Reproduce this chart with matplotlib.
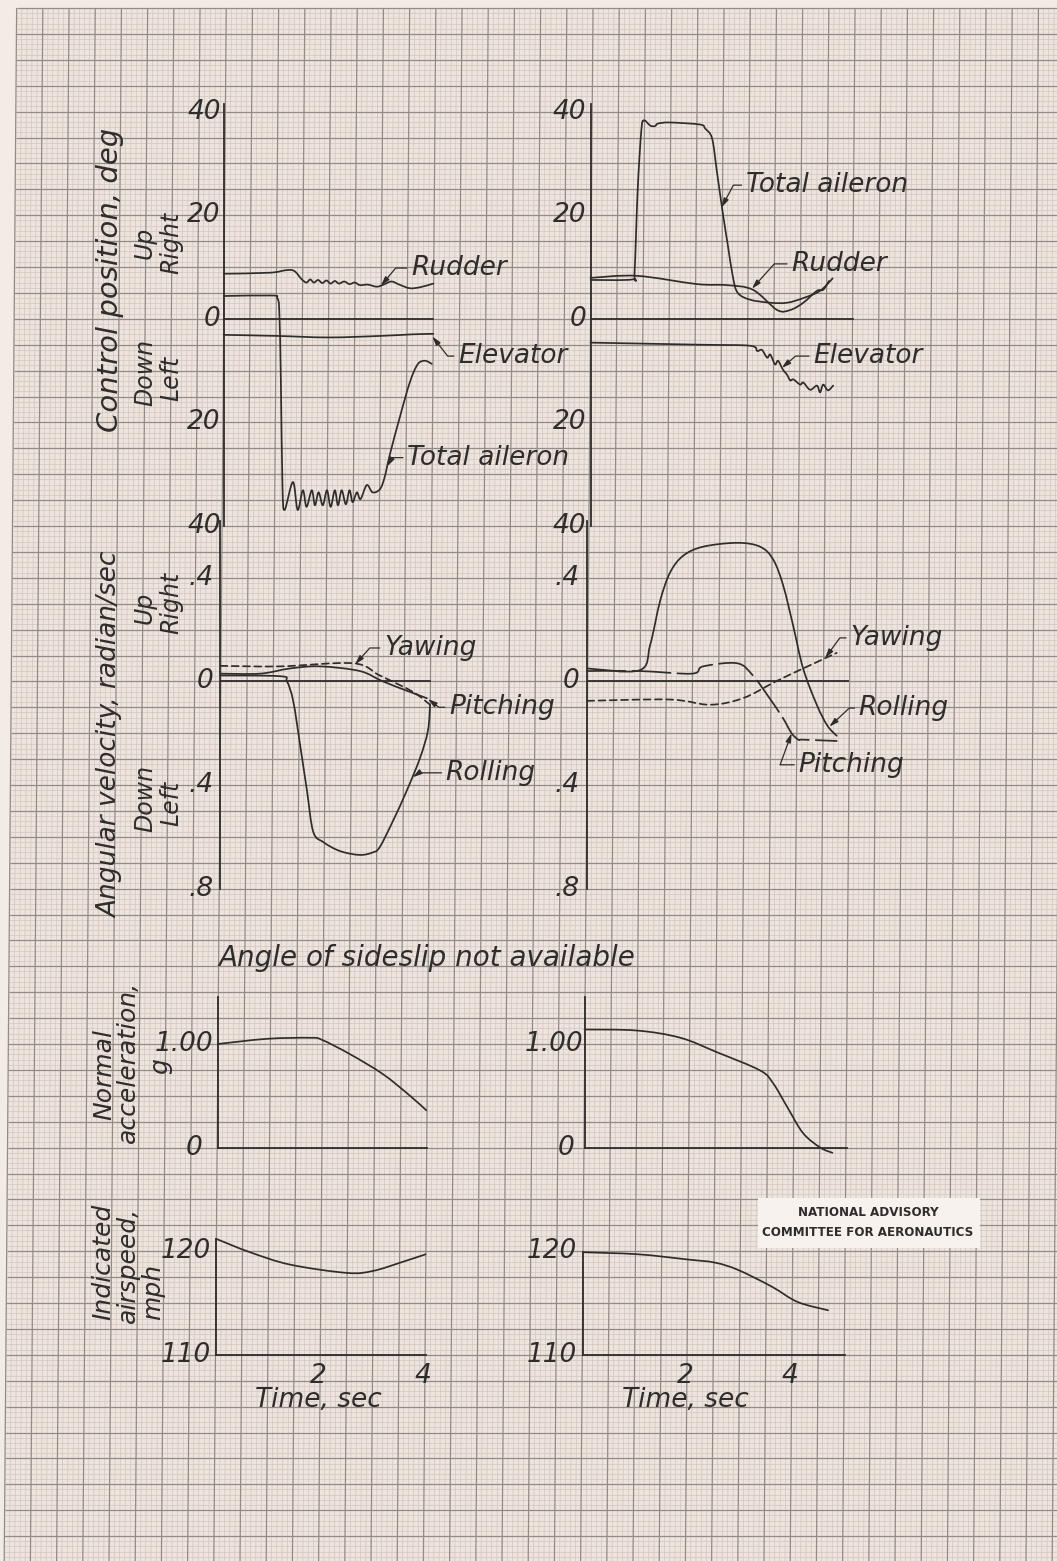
import matplotlib
matplotlib.use('Agg')
import matplotlib.pyplot as plt
from matplotlib.collections import LineCollection
from matplotlib.patches import Polygon, Rectangle, PathPatch
from matplotlib.path import Path

# ---- data ----
# control position, deg (up/right positive), time in sec
rudder_l_t = [0, 0.88, 1.2, 1.35, 1.49, 1.58, 1.65, 1.72, 1.8, 1.88, 1.96, 2.04, 2.12, 2.2, 2.3,
              2.4, 2.5, 2.6, 2.75, 2.92, 3.05, 3.2, 3.35, 3.55, 3.75, 4.0]
rudder_l = [8.7, 8.9, 9.4, 9.2, 7.6, 7.0, 7.6, 7.0, 7.5, 6.9, 7.4, 6.8, 7.3, 6.8, 7.2,
            6.7, 7.0, 6.5, 6.6, 6.2, 6.6, 7.2, 6.6, 5.9, 6.1, 6.8]
elevator_l_t = [0, 1.0, 2.0, 3.0, 3.6, 4.0]
elevator_l = [-3.1, -3.3, -3.6, -3.3, -3.0, -2.9]
aileron_l_t = [0, 0.92, 1.02, 1.06, 1.09, 1.12, 1.16, 1.32, 1.41, 1.51, 1.58, 1.68, 1.74, 1.81,
               1.89, 1.97, 2.04, 2.12, 2.18, 2.25, 2.33, 2.40, 2.46, 2.54, 2.61, 2.73, 2.84,
               2.98, 3.07, 3.17, 3.36, 3.55, 3.70, 3.84, 3.97]
aileron_l = [4.4, 4.5, 4.0, 1.5, -12, -32, -36.9, -31.5, -36.9, -33.1, -36.3, -33.1, -36.0, -33.5,
             -36.0, -33.1, -36.3, -33.1, -36.0, -33.1, -35.8, -33.1, -35.4, -33.5, -34.8, -32.1, -33.5,
             -32.9, -30.6, -26.2, -19, -12.3, -8.8, -8.1, -8.7]

aileron_r_t = [0, 0.80, 0.84, 0.90, 0.97, 1.02, 1.14, 1.23, 1.29, 1.52, 2.09, 2.19, 2.32, 2.41,
               2.53, 2.62, 2.72, 2.81, 3.04, 3.43, 3.75, 4.06, 4.38, 4.62]
aileron_r = [7.5, 7.6, 9.0, 25, 36.5, 38.3, 37.3, 37.2, 37.7, 37.9, 37.5, 36.7, 34.8, 28.5,
             20, 14.2, 7.9, 5.0, 3.7, 3.1, 3.1, 4.0, 5.4, 7.8]
rudder_r_t = [0, 0.88, 2.03, 2.6, 3.1, 3.56, 3.81, 4.06, 4.32, 4.44, 4.55]
rudder_r = [7.9, 8.3, 6.7, 6.5, 5.6, 1.7, 1.7, 3.1, 5.4, 5.6, 7.3]
elevator_r_t = [0, 2.09, 3.04, 3.18, 3.27, 3.37, 3.43, 3.52, 3.58, 3.67, 3.75, 3.81, 3.87, 4.0,
                4.06, 4.19, 4.32, 4.38, 4.44, 4.53, 4.63]
elevator_r = [-4.6, -5.0, -5.2, -6.2, -6.0, -7.5, -6.9, -8.8, -8.1, -9.8, -10.8, -11.9, -11.7, -12.7,
              -12.3, -13.7, -12.9, -14.2, -12.7, -13.8, -12.9]

# angular velocity, radian/sec
rolling_l_t = [0, 1.14, 1.27, 1.39, 1.52, 1.65, 1.77, 1.96, 2.28, 2.66, 2.91, 3.04, 3.29, 3.56, 3.81, 3.96, 4.0]
rolling_l = [0.023, 0.02, 0.0, -0.077, -0.245, -0.42, -0.58, -0.62, -0.655, -0.67, -0.66, -0.64,
             -0.54, -0.42, -0.295, -0.19, -0.09]
pitching_l_t = [0, 0.76, 1.33, 1.9, 2.66, 3.1, 3.61, 3.94]
pitching_l = [0.03, 0.03, 0.05, 0.058, 0.04, 0.0, -0.04, -0.065]
yawing_l_t = [0, 1.14, 2.53, 3.04, 3.67, 4.0]
yawing_l = [0.06, 0.058, 0.07, 0.023, -0.04, -0.09]

rolling_r_t = [0, 1.0, 1.2, 1.39, 1.58, 1.83, 2.21, 2.86, 3.3, 3.55, 3.74, 3.93, 4.12, 4.38, 4.58, 4.76]
rolling_r = [0.05, 0.043, 0.14, 0.31, 0.42, 0.485, 0.52, 0.535, 0.52, 0.47, 0.37, 0.215, 0.05,
             -0.09, -0.17, -0.21]
pitching_r_t = [0, 1.0, 2.0, 2.21, 2.86, 3.16, 3.48, 3.73, 3.9, 4.03, 4.12, 4.76]
pitching_r = [0.04, 0.04, 0.03, 0.058, 0.07, 0.023, -0.065, -0.14, -0.2, -0.225, -0.225, -0.23]
yawing_r_t = [0, 1.58, 2.34, 2.97, 3.6, 4.12, 4.76]
yawing_r = [-0.075, -0.07, -0.09, -0.065, -0.0, 0.05, 0.11]

# normal acceleration, g
accel_l_t = [0, 0.94, 1.77, 1.99, 2.53, 3.15, 3.67, 3.98]
accel_l = [1.0, 1.05, 1.06, 1.04, 0.9, 0.71, 0.5, 0.36]
accel_r_t = [0, 1.0, 1.83, 2.53, 3.35, 3.6, 3.87, 4.17, 4.5, 4.73]
accel_r = [1.14, 1.13, 1.06, 0.92, 0.745, 0.62, 0.39, 0.14, 0.0, -0.05]

# indicated airspeed, mph
speed_l_t = [0, 0.65, 1.42, 2.51, 3.0, 3.52, 4.0]
speed_l = [121.2, 119.9, 118.7, 117.9, 118.1, 118.9, 119.7]
speed_r_t = [0, 1.06, 2.0, 2.52, 2.96, 3.6, 4.1, 4.68]
speed_r = [119.9, 119.7, 119.2, 118.9, 118.2, 116.6, 115.1, 114.3]

ctrl_ticks = [40, 20, 0, -20, -40]
ctrl_tick_labels = ['40', '20', '0', '20', '40']
rate_ticks = [0.4, 0, -0.4, -0.8]
rate_tick_labels = ['.4', '0', '.4', '.8']
time_ticks = [2, 4]

# ---- page / graph paper ----
W, H = 1057, 1561
GX0, GY0 = 16.7, 8.0      # first ruling
GXS, GYS = 26.2, 25.9     # major cell in px
SHEAR = 0.008             # scan is slightly skewed
INK = '#2f2c2c'
PAPER = '#ede4dd'
FONT = 'DejaVu Sans'


def gx(k, y):
    return GX0 + GXS * k - SHEAR * y


def gy(j):
    return GY0 + GYS * j


fig = plt.figure(figsize=(W / 100, H / 100), dpi=100, facecolor='#f3ece5')
bg = fig.add_axes([0, 0, 1, 1])
bg.set_xlim(0, W)
bg.set_ylim(H, 0)
bg.axis('off')
bg.add_patch(Polygon([(GX0, GY0), (W, GY0), (W, H), (GX0 - SHEAR * (H - GY0), H)],
                     closed=True, facecolor=PAPER, edgecolor='none', zorder=0))

minor, major = [], []
for i in range(0, 5 * 41):
    xt = GX0 + GXS / 5 * i
    if xt - SHEAR * GY0 > W + 15:
        break
    seg = [(xt - SHEAR * GY0, GY0), (xt - SHEAR * H, H)]
    (major if i % 5 == 0 else minor).append(seg)
j = 0
while GY0 + GYS / 5 * j <= H:
    y = GY0 + GYS / 5 * j
    seg = [(GX0 - SHEAR * (y - GY0), y), (W, y)]
    (major if j % 5 == 0 else minor).append(seg)
    j += 1
bg.add_collection(LineCollection(minor, colors='#d0c3bc', linewidths=0.45, zorder=1))
bg.add_collection(LineCollection(major, colors='#928b86', linewidths=0.9, zorder=2))


def panel(k0, j_top, j_bot, ylim, tmax=5.0):
    top, bot = gy(j_top), gy(j_bot)
    x0 = gx(k0, (top + bot) / 2)
    width = GXS * 2 * tmax
    ax = fig.add_axes([x0 / W, 1 - bot / H, width / W, (bot - top) / H])
    ax.set_xlim(0, tmax)
    ax.set_ylim(*ylim)
    ax.axis('off')
    ax.patch.set_alpha(0)
    return ax


def curve(ax, t, v, ls='-'):
    # hand-drawn look: smooth cubic path through the read points
    pts = list(zip(t, v))
    n = len(pts)
    verts, codes = [pts[0]], [Path.MOVETO]
    for i in range(n - 1):
        p0 = pts[i - 1] if i > 0 else pts[i]
        p1, p2 = pts[i], pts[i + 1]
        p3 = pts[i + 2] if i + 2 < n else p2
        verts += [(p1[0] + (p2[0] - p0[0]) / 6, p1[1] + (p2[1] - p0[1]) / 6),
                  (p2[0] - (p3[0] - p1[0]) / 6, p2[1] - (p3[1] - p1[1]) / 6), p2]
        codes += [Path.CURVE4] * 3
    ax.add_patch(PathPatch(Path(verts, codes), fill=False, edgecolor=INK, lw=1.25,
                           linestyle=ls, joinstyle='round', capstyle='round', clip_on=False))


def frame(ax, v0, v1, base, tend):
    ax.plot([0, 0], [v0, v1], color=INK, lw=1.3, clip_on=False)
    ax.plot([0, tend], [base, base], color=INK, lw=1.3, clip_on=False)


def ylabels(ax, ticks, labels, dx=-0.09, size=19):
    for v, s in zip(ticks, labels):
        ax.text(dx, v, s, ha='right', va='center', fontsize=size, style='italic',
                family=FONT, color=INK)


def note(ax, text, xy, xytext, angle, size=19, angleA=0):
    ax.annotate(text, xy=xy, xytext=xytext, ha='left', va='center', fontsize=size,
                style='italic', family=FONT, color=INK,
                arrowprops=dict(arrowstyle='-|>,head_length=0.45,head_width=0.13',
                                connectionstyle='angle,angleA=%g,angleB=%g,rad=0' % (angleA, angle),
                                color=INK, lw=0.9, shrinkA=1, shrinkB=0, mutation_scale=12))


# ---- control position ----
axl = panel(8, 4, 20, (-40, 40))
axr = panel(22, 4, 20, (-40, 40))
frame(axl, -40, 41.5, 0, 4)
frame(axr, -40, 41.5, 0, 5)
curve(axl, rudder_l_t, rudder_l)
curve(axl, elevator_l_t, elevator_l)
curve(axl, aileron_l_t, aileron_l)
curve(axr, aileron_r_t, aileron_r)
curve(axr, rudder_r_t, rudder_r)
curve(axr, elevator_r_t, elevator_r)
ylabels(axl, ctrl_ticks, ctrl_tick_labels, dx=-0.06)
ylabels(axr, ctrl_ticks, ctrl_tick_labels, dx=-0.08)
note(axl, 'Rudder', (3.0, 6.4), (3.57, 9.8), 50)
note(axl, 'Elevator', (3.98, -3.4), (4.47, -7.2), -52)
note(axl, 'Total aileron', (3.12, -28.5), (3.5, -26.8), 60)
note(axr, 'Total aileron', (2.5, 21.5), (2.96, 25.8), 62)
note(axr, 'Rudder', (3.08, 5.8), (3.83, 10.6), 48)
note(axr, 'Elevator', (3.65, -9.5), (4.25, -7.2), 41)

# ---- angular velocity ----
bxl = panel(8, 22, 34, (-0.8, 0.4))
bxr = panel(22, 22, 34, (-0.8, 0.4))
bxl.plot([0, 0], [-0.8, 0.62], color=INK, lw=1.3, clip_on=False)
bxr.plot([0, 0], [-0.8, 0.62], color=INK, lw=1.3, clip_on=False)
bxl.plot([0, 4], [0, 0], color=INK, lw=1.3)
bxr.plot([0, 5], [0, 0], color=INK, lw=1.3)
curve(bxl, rolling_l_t, rolling_l)
curve(bxl, pitching_l_t, pitching_l)
curve(bxl, yawing_l_t, yawing_l, ls=(0, (4, 2.5)))
curve(bxr, rolling_r_t, rolling_r)
curve(bxr, pitching_r_t, pitching_r, ls=(0, (22, 4)))
curve(bxr, yawing_r_t, yawing_r, ls=(0, (4, 2.5)))
ylabels(bxl, rate_ticks, rate_tick_labels, dx=-0.14)
ylabels(bxr, rate_ticks, rate_tick_labels, dx=-0.14)
note(bxl, 'Yawing', (2.57, 0.066), (3.12, 0.129), 48)
note(bxl, 'Pitching', (3.96, -0.068), (4.36, -0.10), -37)
note(bxl, 'Rolling', (3.67, -0.37), (4.3, -0.353), 35)
note(bxr, 'Yawing', (4.54, 0.09), (5.02, 0.168), 54)
note(bxr, 'Rolling', (4.62, -0.175), (5.18, -0.103), 43)
note(bxr, 'Pitching', (3.9, -0.2), (4.03, -0.322), 70, angleA=180)

# ---- normal acceleration ----
cxl = panel(8, 38, 44, (0, 1.5))
cxr = panel(22, 38, 44, (0, 1.5))
frame(cxl, 0, 1.45, 0, 4)
frame(cxr, 0, 1.45, 0, 5)
curve(cxl, accel_l_t, accel_l)
curve(cxr, accel_r_t, accel_r)
ylabels(cxl, [1.0], ['1.00'], dx=-0.08)
ylabels(cxl, [0], ['0'], dx=-0.3)
ylabels(cxr, [1.0], ['1.00'], dx=-0.02)
ylabels(cxr, [0], ['0'], dx=-0.2)

# ---- indicated airspeed ----
dxl = panel(8, 47, 52, (110, 122.5))
dxr = panel(22, 47, 52, (110, 122.5))
frame(dxl, 110, speed_l[0], 110, 4)
frame(dxr, 110, speed_r[0], 110, 5)
curve(dxl, speed_l_t, speed_l)
curve(dxr, speed_r_t, speed_r)
ylabels(dxl, [120, 110], ['120', '110'], dx=-0.1)
ylabels(dxr, [120, 110], ['120', '110'], dx=-0.12)
for ax in (dxl, dxr):
    for tt in time_ticks:
        ax.text(tt - 0.05, 108.0, str(tt), ha='center', va='center', fontsize=19,
                style='italic', family=FONT, color=INK)
    ax.text(1.95, 105.6, 'Time, sec', ha='center', va='center', fontsize=19,
            style='italic', family=FONT, color=INK)


# ---- axis titles on the page ----
def vlabel(x, y, s, size=19):
    bg.text(x, y, s, rotation=90, ha='center', va='center', fontsize=size,
            style='italic', family=FONT, color=INK, zorder=5)


vlabel(110, 280, 'Control position, deg', 21)
vlabel(145, 243, 'Up', 17)
vlabel(171, 243, 'Right', 17)
vlabel(145, 372, 'Down', 17)
vlabel(171, 378, 'Left', 17)
vlabel(110, 735, 'Angular velocity, radian/sec', 19)
vlabel(145, 608, 'Up', 17)
vlabel(171, 603, 'Right', 17)
vlabel(145, 798, 'Down', 17)
vlabel(171, 803, 'Left', 17)
vlabel(104, 1075, 'Normal', 18)
vlabel(128, 1062, 'acceleration,', 18)
vlabel(160, 1066, 'g', 18)
vlabel(103, 1262, 'Indicated', 18)
vlabel(128, 1265, 'airspeed,', 18)
vlabel(153, 1292, 'mph', 18)
bg.text(218, 958, 'Angle of sideslip not available', ha='left', va='center', fontsize=20,
        style='italic', family=FONT, color=INK, zorder=5)

bg.add_patch(Rectangle((758, 1198), 222, 50, facecolor='#f7f2ed', edgecolor='none', zorder=4))
bg.text(868, 1212, 'NATIONAL ADVISORY', ha='center', va='center', fontsize=9.5,
        weight='bold', family=FONT, fontstretch='condensed', color='#2e2c2c', zorder=5)
bg.text(868, 1232, 'COMMITTEE FOR AERONAUTICS', ha='center', va='center', fontsize=9.5,
        weight='bold', family=FONT, fontstretch='condensed', color='#2e2c2c', zorder=5)

fig.savefig('out.png', dpi=100, facecolor=fig.get_facecolor())
